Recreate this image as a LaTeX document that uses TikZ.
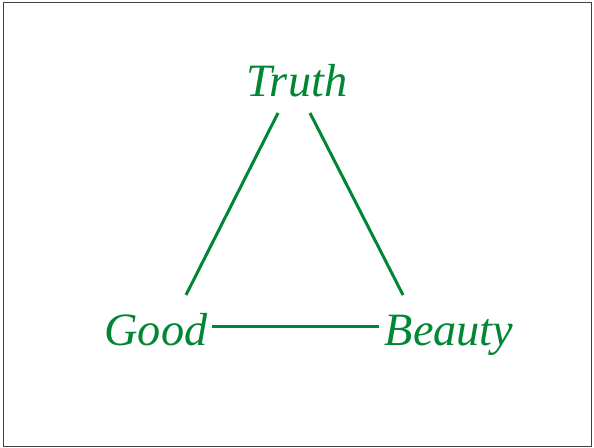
\documentclass[tikz,border=0pt]{standalone}
\usepackage{fontspec}
\setmainfont{Liberation Serif}
\usetikzlibrary{calc}
\definecolor{vgreen}{RGB}{0,134,52}
\begin{document}
\begin{tikzpicture}[x=1bp,y=-1bp,
  word/.style={text=vgreen, anchor=base, inner sep=0pt, font=\fontsize{46.5}{56}\selectfont\itshape},
  link/.style={draw=vgreen, line width=3bp}]
\useasboundingbox (0,0) rectangle (594,448);
\draw[draw=black!75, line width=1bp] (3,3) rectangle (591,446);
\node[word] (truth) at (297,97) {Truth};
\node[word] (good) at (156,345) {Good};
\node[word] (beauty) at (449,345) {Beauty};
\draw[link] ($(truth.base)+(-19,16)$) -- ($(good.base)+(30,-50)$);
\draw[link] ($(truth.base)+(13,16)$) -- ($(beauty.base)+(-46,-50)$);
\draw[link] ($(good.base)+(56,-19)$) -- ($(beauty.base)+(-70,-19)$);
\end{tikzpicture}
\end{document}
